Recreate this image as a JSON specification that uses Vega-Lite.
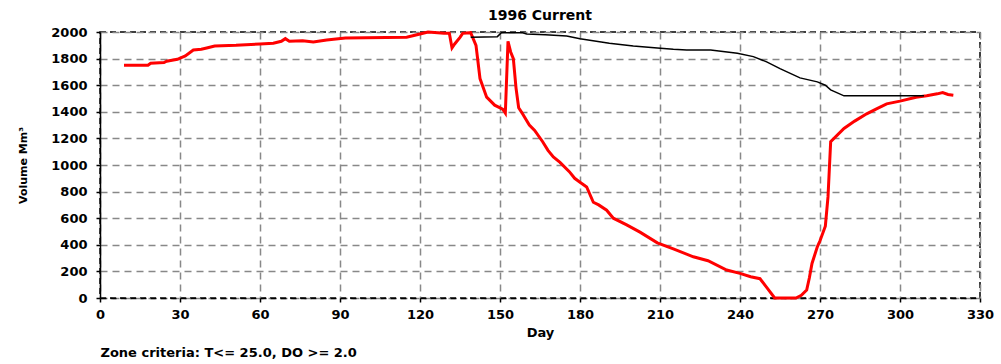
{
  "$schema": "https://vega.github.io/schema/vega-lite/v6.json",
  "width": 880,
  "height": 266,
  "autosize": {"type": "none"},
  "padding": {"left": 100, "top": 32, "right": 21, "bottom": 66},
  "background": "white",
  "title": {"text": "1996 Current", "font": "DejaVu Sans", "fontSize": 14, "fontWeight": "bold", "anchor": "middle", "offset": 3, "color": "black"},
  "config": {
    "view": {"stroke": "black", "strokeDash": [6, 4], "strokeWidth": 1.5},
    "axis": {
      "labelFont": "DejaVu Sans", "labelFontSize": 13, "labelFontWeight": "bold", "labelColor": "black",
      "titleFont": "DejaVu Sans", "titleFontWeight": "bold", "titleColor": "black",
      "gridColor": "#888888", "gridDash": [7, 5], "gridWidth": 1.5, "gridOpacity": 1,
      "tickColor": "black", "tickSize": 4, "tickWidth": 1.5,
      "domainColor": "black", "domainWidth": 1.5, "labelOverlap": false, "format": "d"
    }
  },
  "layer": [
    {
      "data": {"values": [
        {"day": 9, "volume": 1750}, {"day": 18, "volume": 1750}, {"day": 19, "volume": 1765}, {"day": 24, "volume": 1770},
        {"day": 25, "volume": 1780}, {"day": 29, "volume": 1795}, {"day": 32, "volume": 1820}, {"day": 35, "volume": 1865},
        {"day": 38, "volume": 1870}, {"day": 40, "volume": 1880}, {"day": 43, "volume": 1895}, {"day": 51, "volume": 1900},
        {"day": 60, "volume": 1910}, {"day": 65, "volume": 1915}, {"day": 68, "volume": 1930}, {"day": 69.5, "volume": 1950},
        {"day": 71, "volume": 1930}, {"day": 76, "volume": 1935}, {"day": 80, "volume": 1925}, {"day": 85, "volume": 1940},
        {"day": 92, "volume": 1955}, {"day": 115, "volume": 1960}, {"day": 120, "volume": 1985}, {"day": 123, "volume": 2000},
        {"day": 129, "volume": 1990}, {"day": 131, "volume": 1990}, {"day": 132, "volume": 1880}, {"day": 133, "volume": 1910},
        {"day": 135, "volume": 1960}, {"day": 136, "volume": 1990}, {"day": 139, "volume": 1995}, {"day": 141, "volume": 1900},
        {"day": 142.5, "volume": 1650}, {"day": 145, "volume": 1510}, {"day": 148, "volume": 1450}, {"day": 151, "volume": 1420},
        {"day": 152, "volume": 1390}, {"day": 153, "volume": 1930}, {"day": 154, "volume": 1850}, {"day": 155, "volume": 1800},
        {"day": 156, "volume": 1580}, {"day": 157, "volume": 1430}, {"day": 158, "volume": 1400}, {"day": 161, "volume": 1300},
        {"day": 163, "volume": 1260}, {"day": 166, "volume": 1175}, {"day": 168, "volume": 1110}, {"day": 170, "volume": 1060},
        {"day": 172.5, "volume": 1020}, {"day": 176, "volume": 950}, {"day": 178, "volume": 900}, {"day": 180, "volume": 870},
        {"day": 182.5, "volume": 835}, {"day": 185, "volume": 720}, {"day": 187, "volume": 700}, {"day": 190, "volume": 660},
        {"day": 192.5, "volume": 600}, {"day": 197.5, "volume": 550}, {"day": 202.5, "volume": 495}, {"day": 209, "volume": 415},
        {"day": 215, "volume": 370}, {"day": 222.5, "volume": 310}, {"day": 228, "volume": 280}, {"day": 235, "volume": 210},
        {"day": 240, "volume": 185}, {"day": 244, "volume": 160}, {"day": 247.5, "volume": 145}, {"day": 250, "volume": 80},
        {"day": 253, "volume": 0}, {"day": 261, "volume": 0}, {"day": 263, "volume": 20}, {"day": 265, "volume": 60},
        {"day": 266, "volume": 150}, {"day": 267, "volume": 260}, {"day": 269, "volume": 385}, {"day": 270, "volume": 430},
        {"day": 272, "volume": 540}, {"day": 273, "volume": 760}, {"day": 274, "volume": 1175}, {"day": 279, "volume": 1275},
        {"day": 283, "volume": 1330}, {"day": 287.5, "volume": 1385}, {"day": 291, "volume": 1420}, {"day": 295, "volume": 1460},
        {"day": 300, "volume": 1480}, {"day": 306, "volume": 1510}, {"day": 310, "volume": 1520}, {"day": 314, "volume": 1535},
        {"day": 316, "volume": 1545}, {"day": 318, "volume": 1530}, {"day": 320, "volume": 1525}
      ]},
      "mark": {"type": "line", "color": "#ff0000", "strokeWidth": 3, "strokeJoin": "miter"},
      "encoding": {
        "x": {"field": "day", "type": "quantitative", "scale": {"domain": [0, 330], "nice": false},
          "axis": {"values": [0, 30, 60, 90, 120, 150, 180, 210, 240, 270, 300, 330], "title": "Day", "titleFontSize": 13, "titlePadding": 5, "labelPadding": 6, "domainDash": [6, 4], "labelFlush": false}},
        "y": {"field": "volume", "type": "quantitative", "scale": {"domain": [0, 2000], "nice": false},
          "axis": {"values": [0, 200, 400, 600, 800, 1000, 1200, 1400, 1600, 1800, 2000], "title": "Volume Mm³", "titleFontSize": 11, "titlePadding": 22, "labelPadding": 9}}
      }
    },
    {
      "data": {"values": [
        {"day": 139, "volume": 1960}, {"day": 149, "volume": 1965}, {"day": 150.5, "volume": 1995}, {"day": 158.5, "volume": 1995},
        {"day": 160, "volume": 1985}, {"day": 167, "volume": 1980}, {"day": 175, "volume": 1970}, {"day": 180, "volume": 1950},
        {"day": 191, "volume": 1915}, {"day": 200, "volume": 1895}, {"day": 209, "volume": 1880}, {"day": 215, "volume": 1870},
        {"day": 220, "volume": 1865}, {"day": 229, "volume": 1865}, {"day": 239, "volume": 1840}, {"day": 245, "volume": 1815},
        {"day": 250, "volume": 1775}, {"day": 255, "volume": 1725}, {"day": 262.5, "volume": 1655}, {"day": 269, "volume": 1625},
        {"day": 272, "volume": 1600}, {"day": 274, "volume": 1565}, {"day": 279, "volume": 1520}, {"day": 309, "volume": 1520}
      ]},
      "mark": {"type": "line", "color": "black", "strokeWidth": 1.5},
      "encoding": {
        "x": {"field": "day", "type": "quantitative", "scale": {"domain": [0, 330], "nice": false},
          "axis": {"orient": "bottom", "title": "Zone criteria: T<= 25.0, DO >= 2.0", "titleFontSize": 13, "titleAnchor": "start", "titleAlign": "left", "titlePadding": 48, "labels": false, "ticks": false, "domain": false, "grid": false}},
        "y": {"field": "volume", "type": "quantitative", "scale": {"domain": [0, 2000], "nice": false},
          "axis": {"values": [0, 200, 400, 600, 800, 1000, 1200, 1400, 1600, 1800, 2000], "title": "Volume Mm³", "titleFontSize": 11, "titlePadding": 22, "labelPadding": 9}}
      }
    }
  ],
  "resolve": {"scale": {"x": "independent"}}
}
